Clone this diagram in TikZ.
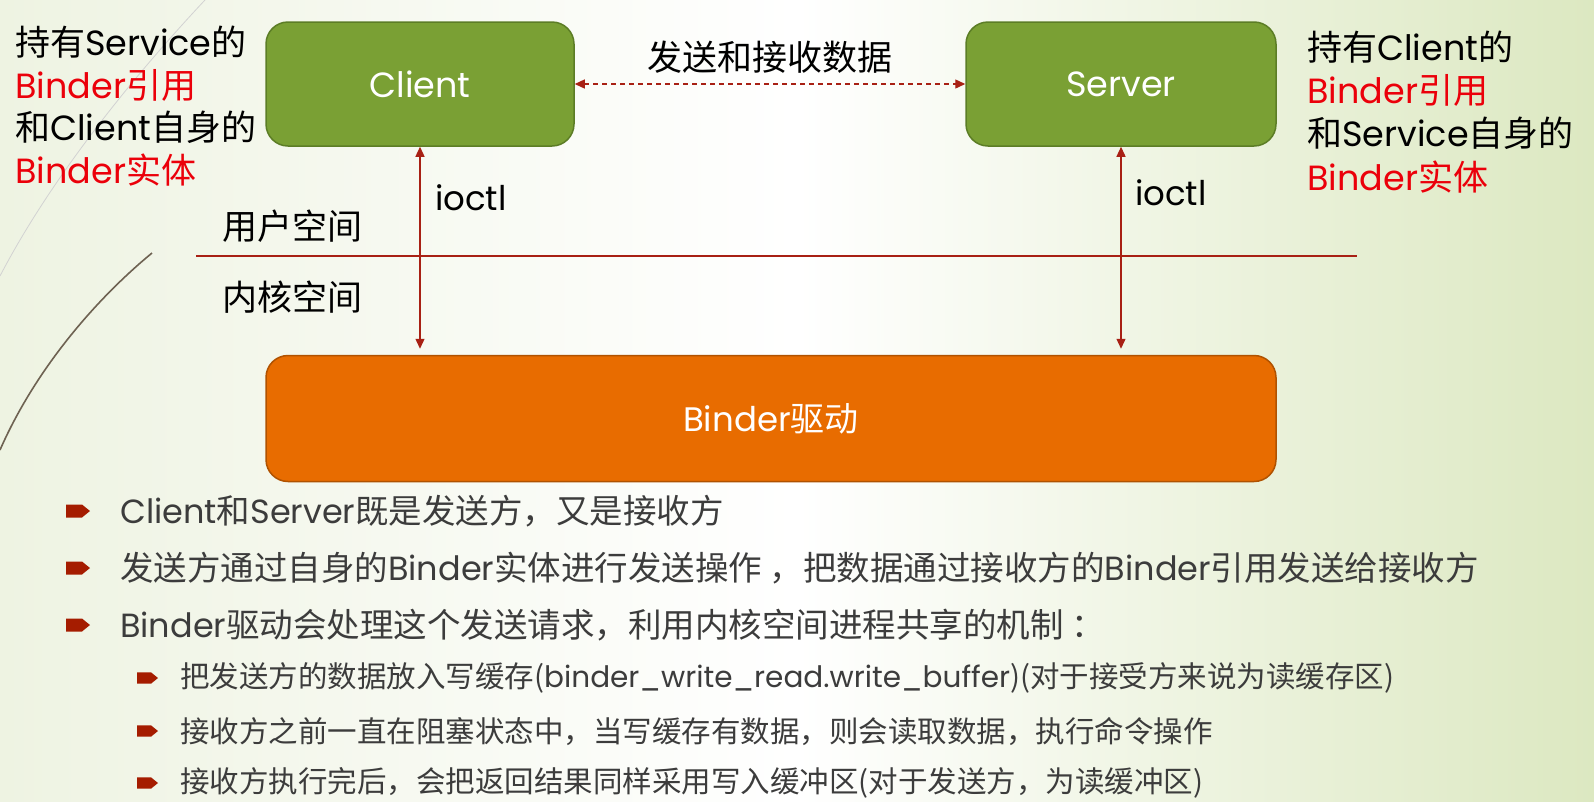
\documentclass[tikz,border=0pt]{standalone}
\usepackage{fontspec}
\setmainfont{Noto Sans CJK SC}
\newfontfamily\lat{Poppins}
\newcommand{\en}[1]{{\lat #1}}
\usepackage{tikz}
\usetikzlibrary{arrows.meta,positioning,calc}
\definecolor{greenfill}{RGB}{122,160,52}
\definecolor{greenline}{RGB}{92,125,38}
\definecolor{drvfill}{RGB}{232,108,0}
\definecolor{drvline}{RGB}{176,82,0}
\definecolor{darkred}{RGB}{168,32,20}
\definecolor{markred}{RGB}{165,28,0}
\definecolor{textred}{RGB}{235,0,10}
\definecolor{itemgray}{RGB}{60,60,60}
\definecolor{bgleft}{RGB}{238,243,226}
\definecolor{bgright}{RGB}{220,232,193}
\definecolor{swoosh}{RGB}{110,98,82}
\tikzset{
  bulletmk/.pic={\fill[markred] (0,-6.5) -- (16,-6.5) -- (24,0) -- (16,6.5) -- (0,6.5) -- cycle;}
}

\begin{document}
\begin{tikzpicture}[
  x=1pt,y=-1pt,
  procbox/.style={rectangle,rounded corners=22pt,draw=greenline,line width=1.5pt,
    fill=greenfill,minimum width=308pt,minimum height=124pt,text=white,
    font=\fontsize{35}{42}\selectfont\lat},
  drvbox/.style={procbox,draw=drvline,fill=drvfill,minimum width=1010pt,
    minimum height=126pt,font=\fontsize{34}{42}\selectfont},
  side/.style={anchor=west,inner sep=0pt,text=black,font=\fontsize{35}{42}\selectfont},
  ref/.style={side,text=textred},
  iolabel/.style={side,font=\fontsize{34}{40}\selectfont\lat},
  item/.style={anchor=west,inner sep=0pt,text=itemgray,font=\fontsize{33.5}{40}\selectfont},
  subitem/.style={item,font=\fontsize{29.5}{36}\selectfont},
  link/.style={{Triangle[length=10pt,width=9pt]}-{Triangle[length=10pt,width=9pt]},
    darkred,line width=1.3pt},
]
\useasboundingbox (0,0) rectangle (1594,801);
% background
\shade[left color=bgleft,right color=bgright,middle color=white] (0,0) rectangle (1594,801);
\draw[gray!35,line width=0.8pt] (205,0) .. controls (130,80) and (50,180) .. (0,276);
\draw[swoosh,line width=1.6pt] (152,253) .. controls (95,300) and (35,370) .. (0,450);

% processes and driver
\node[procbox] (client) at (420,84) {Client};
\node[procbox,minimum width=310pt] (server) at (1121,84) {Server};
\node[drvbox] (drv) at (771,418.5) {\en{Binder}驱动};

\draw[link,dash pattern=on 5pt off 4pt] (client) -- node[above=10pt,inner sep=0pt,
  text=black,font=\fontsize{35}{42}\selectfont] (datalbl) {发送和接收数据} (server);
\draw[link,shorten >=6pt] (client.south) -- (client.south |- drv.north);
\draw[link,shorten >=6pt] (server.south) -- (server.south |- drv.north);
\node[iolabel] (ioL) at (435,198) {ioctl};
\node[iolabel] (ioR) at (1135,193) {ioctl};

% user / kernel divider
\coordinate (divL) at (196,256);
\coordinate (divR) at (1357,256);
\draw[darkred,line width=1.2pt] (divL) -- (divR);
\node[side] (user) at (222,226) {用户空间};
\node[side] (kernel) at (222,297) {内核空间};

% side notes
\node[side] (holdL) at (15,42) {持有\en{Service}的};
\node[ref] (refL) at (15,85) {\en{Binder}引用};
\node[side] (ownL) at (15,127) {和\en{Client}自身的};
\node[ref] (entL) at (15,170) {\en{Binder}实体};
\node[side] (holdR) at (1307,47) {持有\en{Client}的};
\node[ref] (refR) at (1307,90) {\en{Binder}引用};
\node[side] (ownR) at (1307,133) {和\en{Service}自身的};
\node[ref] (entR) at (1307,177) {\en{Binder}实体};

% bullet list
\foreach \y in {511,568,625} \pic at (66,\y) {bulletmk};
\foreach \y in {678,731,783} \pic[scale=0.875] at (137,\y) {bulletmk};
\node[item] (pt1) at (120,511) {\en{Client}和\en{Server}既是发送方，又是接收方};
\node[item] (pt2) at (120,568) {发送方通过自身的\en{Binder}实体进行发送操作 ，把数据通过接收方的\en{Binder}引用发送给接收方};
\node[item] (pt3) at (120,625) {\en{Binder}驱动会处理这个发送请求，利用内核空间进程共享的机制 ：};
\node[subitem] (sub1) at (180,678) {把发送方的数据放入写缓存(\en{binder\_write\_read.write\_buffer})(对于接受方来说为读缓存区)};
\node[subitem] (sub2) at (180,731) {接收方之前一直在阻塞状态中，当写缓存有数据，则会读取数据，执行命令操作};
\node[subitem] (sub3) at (180,783) {接收方执行完后，会把返回结果同样采用写入缓冲区(对于发送方，为读缓冲区)};
\end{tikzpicture}
\end{document}
